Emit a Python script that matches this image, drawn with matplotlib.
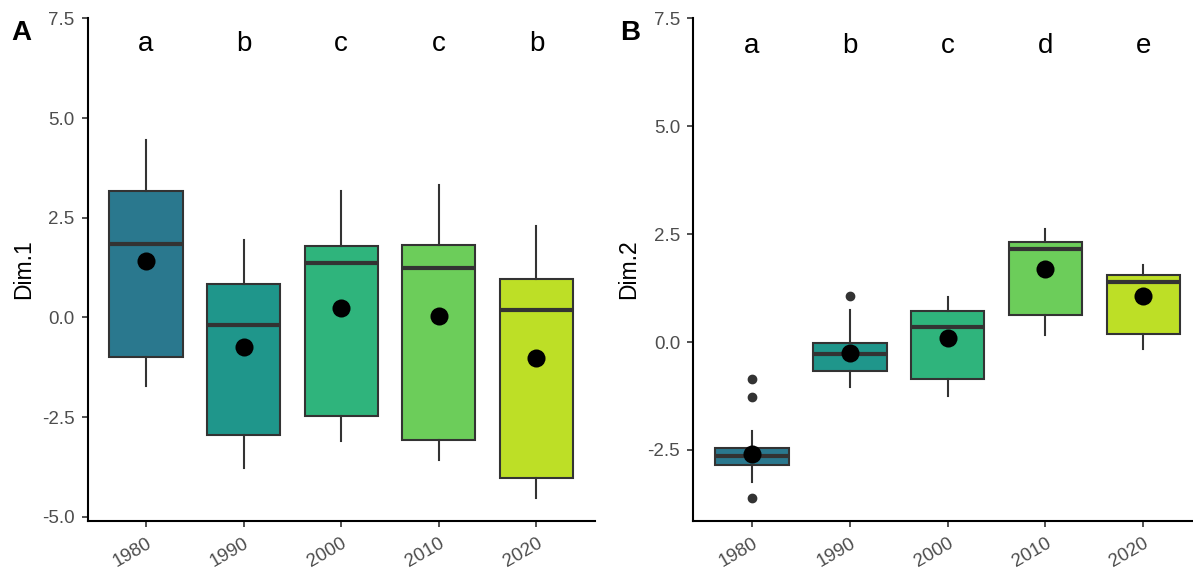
import matplotlib
matplotlib.use("Agg")
import matplotlib.pyplot as plt
import numpy as np

plt.rcParams['font.family'] = ['Liberation Sans', 'DejaVu Sans']

years = ['1980', '1990', '2000', '2010', '2020']

# Panel A (Dim.1)
a_whishi = [4.45, 1.93, 3.16, 3.31, 2.30]
a_q3 = [3.17, 0.84, 1.80, 1.82, 0.96]
a_med = [1.83, -0.18, 1.36, 1.23, 0.18]
a_q1 = [-1.00, -2.95, -2.48, -3.07, -4.04]
a_whislo = [-1.71, -3.79, -3.09, -3.57, -4.54]
a_mean = [1.41, -0.74, 0.23, 0.03, -1.01]
a_fliers = [[], [], [], [], []]
a_letters = ['a', 'b', 'c', 'c', 'b']

# Panel B (Dim.2)
b_whishi = [-2.05, 0.75, 1.05, 2.62, 1.79]
b_q3 = [-2.46, -0.02, 0.72, 2.33, 1.56]
b_med = [-2.65, -0.28, 0.36, 2.16, 1.39]
b_q1 = [-2.85, -0.67, -0.86, 0.63, 0.19]
b_whislo = [-3.25, -1.04, -1.25, 0.17, -0.17]
b_mean = [-2.59, -0.26, 0.09, 1.69, 1.06]
b_fliers = [[-0.85, -1.28, -3.62], [1.06], [], [], []]
b_letters = ['a', 'b', 'c', 'd', 'e']

colors = plt.cm.viridis(np.linspace(0.4, 0.9, 5))
edge = '#333333'

W, H = 1193, 571
fig = plt.figure(figsize=(W / 100, H / 100), dpi=100)

def px_axes(l, r, b, t):
    return fig.add_axes([l / W, 1 - b / H, (r - l) / W, (b - t) / H])

axA = px_axes(87.5, 595, 520.7, 18)
axB = px_axes(693.3, 1202, 520.7, 18)

def draw(ax, whishi, q3, med, q1, whislo, mean, fliers, letters, ylim, ylabel, ticks, letter_y):
    stats = []
    for i in range(len(years)):
        stats.append(dict(med=med[i], q1=q1[i], q3=q3[i], whislo=whislo[i],
                          whishi=whishi[i], fliers=fliers[i], label=years[i]))
    pos = np.arange(1, len(years) + 1)
    bp = ax.bxp(stats, positions=pos, widths=0.75, patch_artist=True,
                showcaps=False,
                boxprops=dict(edgecolor=edge, linewidth=1.5),
                medianprops=dict(color=edge, linewidth=3.0, solid_capstyle='butt'),
                whiskerprops=dict(color=edge, linewidth=1.5),
                flierprops=dict(marker='o', markerfacecolor=edge, markeredgecolor=edge,
                                markersize=6))
    for patch, c in zip(bp['boxes'], colors):
        patch.set_facecolor(c)
    ax.scatter(pos, mean, s=13 ** 2, color='black', zorder=5, linewidths=0)
    for p, t in zip(pos, letters):
        ax.text(p, letter_y, t, ha='center', va='baseline', fontsize=20, color='black')
    ax.set_xlim(0.4, 5.6)
    ax.set_ylim(*ylim)
    ax.set_yticks(ticks)
    ax.set_yticklabels([f'{t:.1f}' for t in ticks])
    ax.set_xticks(pos)
    ax.set_xticklabels(years, rotation=30, ha='right', va='top', rotation_mode='anchor')
    for s in ['top', 'right']:
        ax.spines[s].set_visible(False)
    for s in ['left', 'bottom']:
        ax.spines[s].set_linewidth(1.5)
        ax.spines[s].set_color('black')
    ax.tick_params(axis='both', length=4, width=1.2, color='#333333', labelcolor='#4D4D4D',
                   labelsize=13.5)
    ax.tick_params(axis='y', pad=5.5)
    ax.tick_params(axis='x', pad=6)
    ax.set_ylabel(ylabel, fontsize=16.5, color='black', labelpad=5)

draw(axA, a_whishi, a_q3, a_med, a_q1, a_whislo, a_mean, a_fliers, a_letters,
     (-5.1, 7.51), 'Dim.1', [-5.0, -2.5, 0.0, 2.5, 5.0, 7.5], 6.68)
draw(axB, b_whishi, b_q3, b_med, b_q1, b_whislo, b_mean, b_fliers, b_letters,
     (-4.14, 7.51), 'Dim.2', [-2.5, 0.0, 2.5, 5.0, 7.5], 6.69)

fig.text(11 / W, 1 - 40 / H, 'A', fontsize=20, fontweight='bold', ha='left', va='baseline')
fig.text(620 / W, 1 - 40 / H, 'B', fontsize=20, fontweight='bold', ha='left', va='baseline')

fig.savefig('out.png', dpi=100)
